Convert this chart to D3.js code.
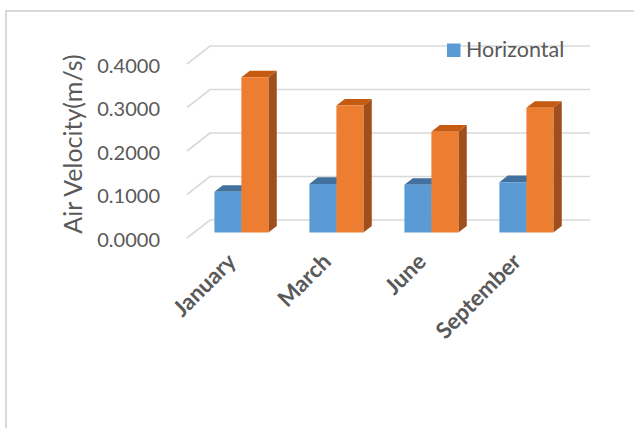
<!DOCTYPE html>
<html>
<head>
<meta charset="utf-8">
<script src="https://cdn.jsdelivr.net/npm/d3@7/dist/d3.min.js"></script>
<style>
  html, body { margin: 0; padding: 0; background: #fff; }
  svg { display: block; }
</style>
</head>
<body>
<svg id="chart" width="634" height="428"></svg>
<script>
// ---- data ----
const categories = ["January", "March", "June", "September"];
const seriesNames = ["Horizontal", "Vertical"];
const horizontal = [0.094, 0.112, 0.110, 0.116];
const vertical = [0.357, 0.292, 0.232, 0.287];
const yTicks = [0, 0.1, 0.2, 0.3, 0.4];
const legendLabels = ["Horizontal"];
const yTitle = "Air Velocity(m/s)";

// ---- styling ----
const faceColors = ["#5B9BD5", "#ED7D31"];
const topColors = ["#41719C", "#C55A11"];
const sideColors = ["#3F6E9A", "#A04E1C"];
const textColor = "#595959";
const gridColor = "#d9d9d9";

const svg = d3.select("#chart");

// frame
svg.append("rect")
  .attr("x", 6).attr("y", 11)
  .attr("width", 700).attr("height", 500)
  .attr("fill", "none").attr("stroke", gridColor).attr("stroke-width", 2);

// 3D projection (depth z in [0,1])
const DX = 23, DY = -18;
const P = (x, y, z) => [x + z * DX, y + z * DY];
const z0 = 0.3, z1 = 0.665;

const x = d3.scaleBand().domain(categories).range([187, 567])
  .paddingInner(0.432).paddingOuter(0.216);
const y = d3.scaleLinear().domain([0, 0.4]).range([238, 64]);
const xs = d3.scaleBand().domain(seriesNames).range([0, x.bandwidth()]);

// walls: left side diagonals and back gridlines
const grid = svg.append("g");
yTicks.forEach(t => {
  const a = P(187, y(t), 0), b = P(187, y(t), 1), c = P(567, y(t), 1);
  grid.append("polyline")
    .attr("points", [a, b, c].map(p => p.join(",")).join(" "))
    .attr("fill", "none").attr("stroke", gridColor).attr("stroke-width", 1.6);
});

// y axis labels
const yAxis = d3.axisLeft(y).tickValues(yTicks).tickFormat(d3.format(".4f")).tickSize(0).tickPadding(0);
const yg = svg.append("g").attr("transform", "translate(160,2)").call(yAxis);
yg.select(".domain").remove();
yg.selectAll("text")
  .attr("fill", textColor)
  .style("font-family", "Lato, sans-serif")
  .style("font-size", "20px");

// y title
svg.append("text")
  .attr("transform", "translate(82,144) rotate(-90)")
  .attr("text-anchor", "middle")
  .attr("fill", textColor)
  .style("font-family", "Lato, sans-serif")
  .style("font-size", "25px")
  .text(yTitle);

// bars
const data = categories.map((c, i) => ({ cat: c, vals: [horizontal[i], vertical[i]] }));
const bars = svg.append("g");
data.forEach(d => {
  d.vals.forEach((v, si) => {
    const x0 = x(d.cat) + xs(seriesNames[si]);
    const x1 = x0 + xs.bandwidth();
    const yb = y(0), yt = y(v);
    const poly = pts => pts.map(p => p.join(",")).join(" ");
    bars.append("polygon")
      .attr("points", poly([P(x1, yb, z0), P(x1, yt, z0), P(x1, yt, z1), P(x1, yb, z1)]))
      .attr("fill", sideColors[si]);
    bars.append("polygon")
      .attr("points", poly([P(x0, yt, z0), P(x1, yt, z0), P(x1, yt, z1), P(x0, yt, z1)]))
      .attr("fill", topColors[si]);
    bars.append("polygon")
      .attr("points", poly([P(x0, yb, z0), P(x1, yb, z0), P(x1, yt, z0), P(x0, yt, z0)]))
      .attr("fill", faceColors[si]);
  });
});

// category labels
const xl = svg.append("g");
categories.forEach(c => {
  const cx = x(c) + x.bandwidth() / 2 + z0 * DX;
  xl.append("text")
    .attr("transform", `translate(${cx - 4},${263}) rotate(-45)`)
    .attr("text-anchor", "end")
    .attr("fill", textColor)
    .style("font-family", "Lato, sans-serif")
    .style("font-weight", "bold")
    .style("font-size", "22.5px")
    .text(c);
});

// legend
const lg = svg.append("g");
legendLabels.forEach((l, i) => {
  lg.append("rect").attr("x", 447).attr("y", 43.5).attr("width", 13.5).attr("height", 13.5)
    .attr("fill", faceColors[i]);
  lg.append("text").attr("x", 466).attr("y", 57)
    .attr("fill", textColor)
    .style("font-family", "Lato, sans-serif")
    .style("font-size", "21.5px")
    .text(l);
});
</script>
</body>
</html>
